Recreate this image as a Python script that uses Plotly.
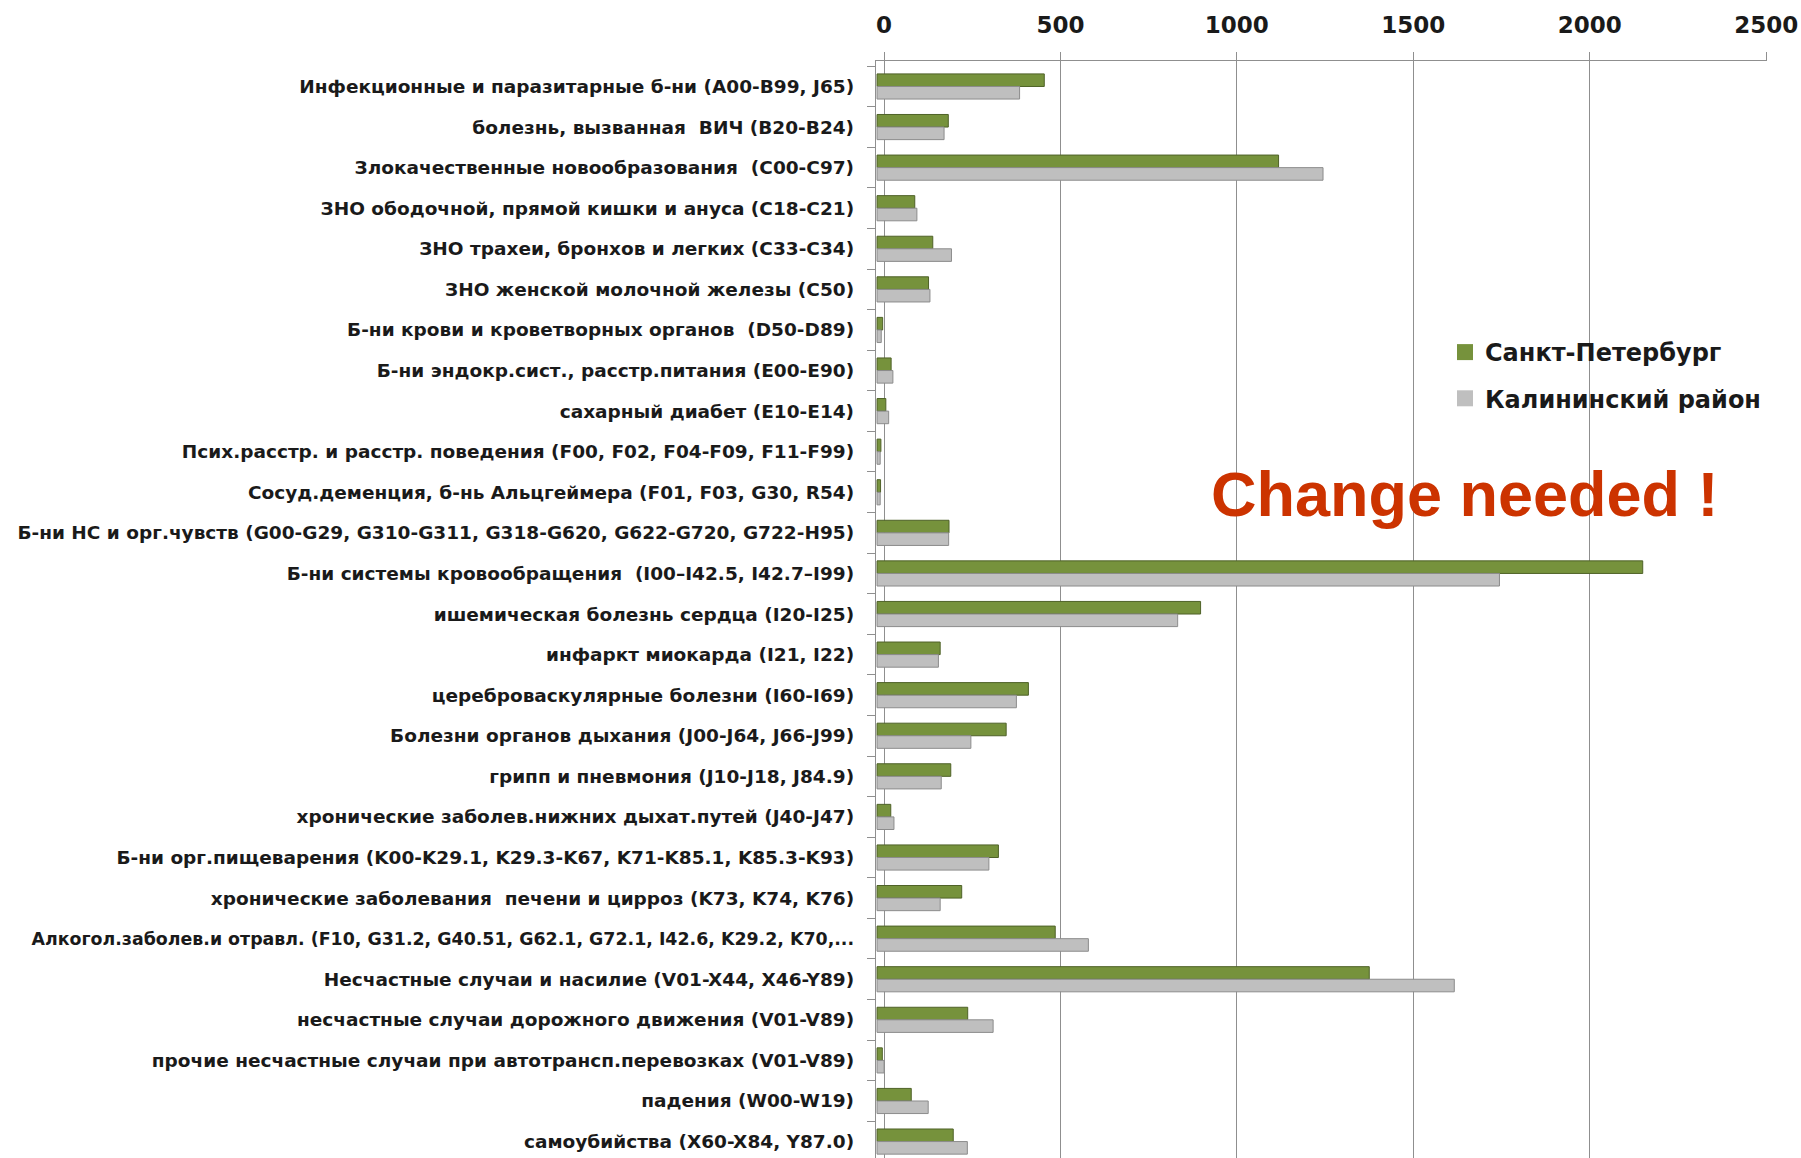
import plotly.graph_objects as go

# Causes of death (ICD-10 groups), top to bottom
categories = [
    "Инфекционные и паразитарные б-ни (A00-B99, J65)",
    "болезнь, вызванная  ВИЧ (B20-B24)",
    "Злокачественные новообразования  (C00-C97)",
    "ЗНО ободочной, прямой кишки и ануса (C18-C21)",
    "ЗНО трахеи, бронхов и легких (C33-C34)",
    "ЗНО женской молочной железы (C50)",
    "Б-ни крови и кроветворных органов  (D50-D89)",
    "Б-ни эндокр.сист., расстр.питания (E00-E90)",
    "сахарный диабет (E10-E14)",
    "Псих.расстр. и расстр. поведения (F00, F02, F04-F09, F11-F99)",
    "Сосуд.деменция, б-нь Альцгеймера (F01, F03, G30, R54)",
    "Б-ни НС и орг.чувств (G00-G29, G310-G311, G318-G620, G622-G720, G722-H95)",
    "Б-ни системы кровообращения  (I00–I42.5, I42.7–I99)",
    "ишемическая болезнь сердца (I20-I25)",
    "инфаркт миокарда (I21, I22)",
    "цереброваскулярные болезни (I60-I69)",
    "Болезни органов дыхания (J00-J64, J66-J99)",
    "грипп и пневмония (J10-J18, J84.9)",
    "хронические заболев.нижних дыхат.путей (J40-J47)",
    "Б-ни орг.пищеварения (K00-K29.1, K29.3-K67, K71-K85.1, K85.3-K93)",
    "хронические заболевания  печени и цирроз (K73, K74, K76)",
    "Алкогол.заболев.и отравл. (F10, G31.2, G40.51, G62.1, G72.1, I42.6, K29.2, K70,...",
    "Несчастные случаи и насилие (V01-X44, X46-Y89)",
    "несчастные случаи дорожного движения (V01-V89)",
    "прочие несчастные случаи при автотрансп.перевозках (V01-V89)",
    "падения (W00-W19)",
    "самоубийства (X60-X84, Y87.0)",
]

spb_values = [474, 202, 1138, 107, 158, 146, 16, 40, 25, 11, 10, 204, 2170, 917,
              179, 429, 366, 209, 39, 344, 240, 505, 1395, 257, 15, 97, 216]
kal_values = [404, 190, 1264, 113, 211, 150, 12, 45, 33, 9, 9, 203, 1764, 852,
              174, 395, 266, 182, 48, 317, 179, 599, 1636, 329, 20, 145, 256]

series_names = ["Санкт-Петербург", "Калининский район"]
x_ticks = [0, 500, 1000, 1500, 2000, 2500]

# the very long alcohol label is set a touch smaller so it fits the page
label_text = [
    f'<span style="font-size:17.4px">{c}</span>' if len(c) > 80 else c
    for c in categories
]

GREEN = "#76923C"
GREEN_EDGE = "#4F6228"
GREY = "#BFBFBF"
GREY_EDGE = "#8C8C8C"
GRID = "#8F8F8F"

W, H = 1801, 1158

# value axis: gridlines at 0..2500, a little room on the left for the bar depth
x_lo, x_hi = -22.7, 2501
depth_shift = 19.8  # bars sit slightly in front of (left of) the gridline plane

fig = go.Figure()

fig.add_trace(go.Bar(
    y=categories, x=spb_values, orientation="h", name=series_names[0],
    marker=dict(color=GREEN, line=dict(color=GREEN_EDGE, width=1)),
    xaxis="x2", yaxis="y", showlegend=False, legendgroup="a",
))
fig.add_trace(go.Bar(
    y=categories, x=kal_values, orientation="h", name=series_names[1],
    marker=dict(color=GREY, line=dict(color=GREY_EDGE, width=1)),
    xaxis="x2", yaxis="y", showlegend=False, legendgroup="b",
))

# legend entries with square swatches (on the main x/y pair)
for name, col, grp in [(series_names[0], GREEN, "a"), (series_names[1], GREY, "b")]:
    fig.add_trace(go.Scatter(
        x=[None], y=[None], mode="markers", name=name, legendgroup=grp,
        marker=dict(symbol="square", size=16, color=col),
        xaxis="x", yaxis="y",
    ))

x_dom = [876 / W, 1766.5 / W]
y_top = 1 - 61 / H

fig.update_layout(
    width=W, height=H,
    margin=dict(l=0, r=0, t=0, b=0),
    paper_bgcolor="white", plot_bgcolor="white",
    barmode="group", bargap=0.38, bargroupgap=0.0,
    xaxis=dict(
        domain=x_dom, range=[x_lo, x_hi], side="top", anchor="y",
        tickvals=x_ticks, ticktext=[str(v) for v in x_ticks],
        showgrid=True, gridcolor=GRID, gridwidth=1.4,
        showline=True, linecolor=GRID, linewidth=1.4,
        ticks="outside", ticklen=8, tickcolor=GRID,
        zeroline=False, automargin=False, ticklabelstandoff=10,
        tickfont=dict(family="DejaVu Sans", size=23, color="#1a1a1a", weight="bold"),
    ),
    xaxis2=dict(
        domain=x_dom, overlaying="x", side="top", anchor="y",
        range=[x_lo + depth_shift, x_hi + depth_shift],
        visible=False, showgrid=False, zeroline=False,
    ),
    yaxis=dict(
        domain=[0, y_top], type="category", anchor="x",
        categoryorder="array", categoryarray=categories,
        tickmode="array", tickvals=categories, ticktext=label_text,
        range=[26.405, -0.628],
        showgrid=False, zeroline=False,
        showline=True, linecolor=GRID, linewidth=1.4,
        ticks="outside", ticklen=8, tickcolor=GRID, tickson="boundaries",
        automargin=False, ticklabelstandoff=17,
        tickfont=dict(family="DejaVu Sans", size=18.5, color="#1a1a1a", weight="bold"),
    ),
    legend=dict(
        x=1445 / W, y=1 - 330 / H, xanchor="left", yanchor="top",
        bgcolor="rgba(0,0,0,0)", borderwidth=0,
        traceorder="grouped", tracegroupgap=12,
        font=dict(family="DejaVu Sans", size=24, color="#1a1a1a", weight="bold"),
    ),
    annotations=[dict(
        text="Change needed !", x=1464.5 / W, y=1 - 494 / H,
        xref="paper", yref="paper", xanchor="center", yanchor="middle",
        showarrow=False,
        font=dict(family="Liberation Sans", size=63, color="#CC3300", weight="bold"),
    )],
)

fig.write_html("out.html")
